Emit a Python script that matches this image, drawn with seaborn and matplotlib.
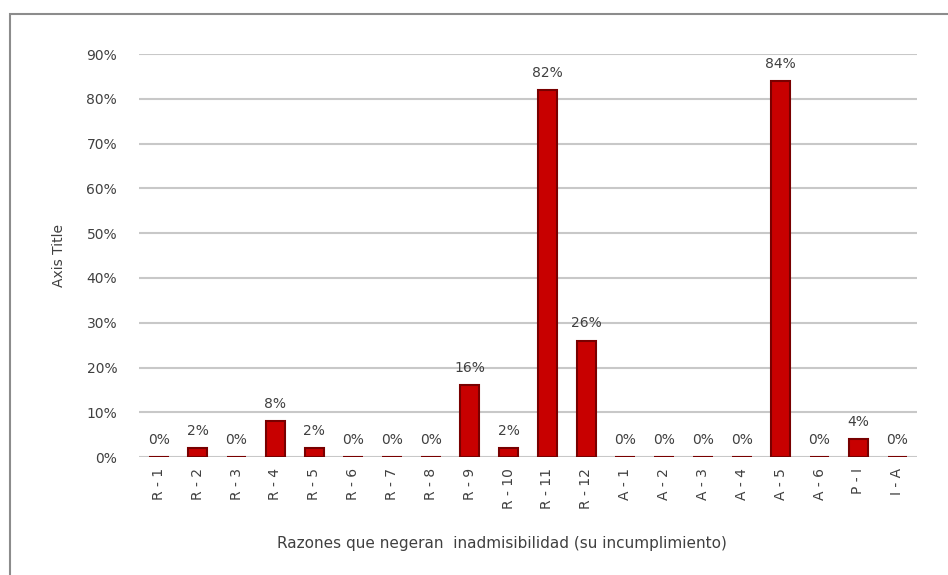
import matplotlib
matplotlib.use("Agg")
import matplotlib.pyplot as plt
import seaborn as sns
import pandas as pd
from matplotlib.patches import Rectangle

# Data
categories = ["R - 1", "R - 2", "R - 3", "R - 4", "R - 5", "R - 6", "R - 7", "R - 8",
              "R - 9", "R - 10", "R - 11", "R - 12", "A - 1", "A - 2", "A - 3", "A - 4",
              "A - 5", "A - 6", "P - I", "I - A"]
values = [0, 2, 0, 8, 2, 0, 0, 0, 16, 2, 82, 26, 0, 0, 0, 0, 84, 0, 4, 0]

df = pd.DataFrame({"razon": categories, "pct": values})

sns.set_theme(style="white")
plt.rcParams["font.family"] = ["DejaVu Sans"]

fig = plt.figure(figsize=(9.48, 5.75), dpi=100)
ax = fig.add_axes([0.147, 0.205, 0.82, 0.701])

sns.barplot(data=df, x="razon", y="pct", color="#c80000", width=0.5,
            edgecolor="#780000", linewidth=1.5, saturation=1, ax=ax, zorder=3)

ax.set_ylim(0, 90)
ax.set_yticks(range(0, 91, 10))
ax.set_yticklabels([f"{v}%" for v in range(0, 91, 10)], fontsize=10, color="#404040")
ax.yaxis.grid(True, color="#c8c8c8", linewidth=1.5, zorder=0)
ax.set_axisbelow(True)
for s in ax.spines.values():
    s.set_visible(False)
ax.tick_params(axis="x", rotation=90, labelsize=10, labelcolor="#404040", length=0, pad=8)
ax.tick_params(axis="y", length=0, pad=16)

for i, v in enumerate(values):
    ax.text(i, v + 2.3, f"{v}%", ha="center", va="bottom", fontsize=10, color="#404040")

ax.set_xlabel("Razones que negeran  inadmisibilidad (su incumplimiento)", fontsize=11,
              color="#404040")
ax.xaxis.set_label_coords(0.467, -0.196)
ax.set_ylabel("Axis Title", fontsize=10, color="#404040")
ax.yaxis.set_label_coords(-0.094, 0.5)

# chart-area border (only left and top edges fall inside the picture)
fig.patches.append(Rectangle((0.011, -0.05), 1.05, 1.026, transform=fig.transFigure,
                             fill=False, edgecolor="#8c8c8c", linewidth=1.5))

fig.savefig("out.png", dpi=100)
